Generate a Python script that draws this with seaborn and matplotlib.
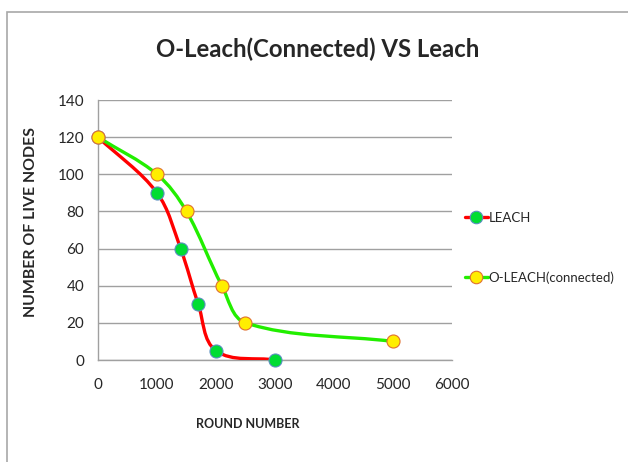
import numpy as np
import pandas as pd
import seaborn as sns
import matplotlib
matplotlib.use("Agg")
import matplotlib.pyplot as plt
from matplotlib.path import Path
from matplotlib.patches import PathPatch
from matplotlib.lines import Line2D

leach_rounds = [0, 1000, 1400, 1700, 2000, 3000]
leach_nodes = [120, 90, 60, 30, 5, 0]
oleach_rounds = [0, 1000, 1500, 2100, 2500, 5000]
oleach_nodes = [120, 100, 80, 40, 20, 10]
series_names = ["LEACH", "O-LEACH(connected)"]
title = "O-Leach(Connected) VS Leach"

sns.set_theme(style="white")
plt.rcParams["font.family"] = ["Lato", "DejaVu Sans"]

W, H = 628, 462
x0, x1, y0, y1 = 98, 452, 100, 360
fig = plt.figure(figsize=(W/100, H/100), dpi=100)
ax = fig.add_axes([x0/W, 1-y1/H, (x1-x0)/W, (y1-y0)/H])
XMAX, YMAX = 6000, 140
sx, sy = (x1-x0)/XMAX, (y1-y0)/YMAX

def smooth_path(xs, ys):
    # smooth curve through the data points (Excel-like "smoothed line")
    pts = np.column_stack([np.asarray(xs) * sx, np.asarray(ys) * sy]).astype(float)
    n = len(pts)
    tang = []
    for i in range(n):
        a = pts[i - 1] if i > 0 else pts[i]
        b = pts[i + 1] if i + 1 < n else pts[i]
        t = b - a
        tang.append(t / np.linalg.norm(t))
    verts = [pts[0]]
    codes = [Path.MOVETO]
    for i in range(n - 1):
        p1, p2 = pts[i], pts[i + 1]
        d = np.linalg.norm(p2 - p1) / 3.0
        verts += [p1 + tang[i] * d, p2 - tang[i + 1] * d, p2]
        codes += [Path.CURVE4] * 3
    verts = np.array(verts) / np.array([sx, sy])
    return Path(verts, codes)

ax.add_patch(PathPatch(smooth_path(leach_rounds, leach_nodes), fill=False,
                       edgecolor="#ff0000", lw=2.4, zorder=3, capstyle="round"))
ax.add_patch(PathPatch(smooth_path(oleach_rounds, oleach_nodes), fill=False,
                       edgecolor="#22ee00", lw=2.4, zorder=3, capstyle="round"))

df1 = pd.DataFrame({"x": leach_rounds, "y": leach_nodes})
df2 = pd.DataFrame({"x": oleach_rounds, "y": oleach_nodes})
sns.scatterplot(data=df1, x="x", y="y", ax=ax, s=88, color="#00dd33",
                edgecolor="#5a8fc0", linewidth=0.8, zorder=4, legend=False, clip_on=False)
sns.scatterplot(data=df2, x="x", y="y", ax=ax, s=88, color="#ffee00",
                edgecolor="#e07030", linewidth=0.8, zorder=4, legend=False, clip_on=False)

ax.set_xlim(0, XMAX)
ax.set_ylim(0, YMAX)
ax.set_xticks(range(0, XMAX + 1, 1000))
ax.set_yticks(range(0, YMAX + 1, 20))
ax.yaxis.grid(True, color="#a0a0a0", lw=1)
ax.xaxis.grid(False)
for s in ["top", "right"]:
    ax.spines[s].set_visible(False)
for s in ["left", "bottom"]:
    ax.spines[s].set_color("#a0a0a0")
    ax.spines[s].set_linewidth(1)
ax.tick_params(axis="x", direction="out", length=5, color="#a0a0a0", labelsize=11, pad=8)
ax.tick_params(axis="y", direction="out", length=4, color="#a0a0a0", labelsize=11, pad=6)
ax.set_xlabel("ROUND NUMBER", fontsize=9, fontweight="bold")
ax.xaxis.set_label_coords((248 - x0) / (x1 - x0), -(418 - y1) / (y1 - y0))
ax.set_ylabel("NUMBER OF LIVE NODES", fontsize=11.4, fontweight="bold")
ax.yaxis.set_label_coords(-(x0 - 38) / (x1 - x0), (y1 - 222) / (y1 - y0))

fig.text(318/W, 1-49/H, title, fontsize=17.2, fontweight="bold", ha="center", va="center")

h1 = Line2D([], [], color="#ff0000", lw=2.4, marker="o", markersize=9,
            markerfacecolor="#00dd33", markeredgecolor="#5a8fc0", markeredgewidth=0.8)
h2 = Line2D([], [], color="#22ee00", lw=2.4, marker="o", markersize=9,
            markerfacecolor="#ffee00", markeredgecolor="#e07030", markeredgewidth=0.8)
fig.legend([h1, h2], series_names, loc="upper left",
           bbox_to_anchor=(458/W, 1-205/H), frameon=False, fontsize=9.5,
           handlelength=1.8, handletextpad=0.0, labelspacing=3.6, borderpad=0)

border = plt.Rectangle((7/W, -0.05), 1.0, 1-12/H+0.05, transform=fig.transFigure,
                       fill=False, edgecolor="#a8a8a8", lw=1.2)
fig.add_artist(border)

fig.savefig("out.png", dpi=100)
